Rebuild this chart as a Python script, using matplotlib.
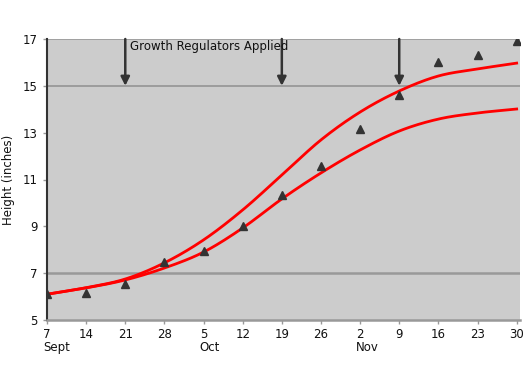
import matplotlib.pyplot as plt
import numpy as np

# days since Sept 7
days = [0, 7, 14, 21, 28, 35, 42, 49, 56, 63, 70, 77, 84]
tick_labels = ['7', '14', '21', '28', '5', '12', '19', '26', '2', '9', '16', '23', '30']
months = [(0, 'Sept'), (28, 'Oct'), (56, 'Nov')]

measured = [6.1, 6.15, 6.55, 7.48, 7.95, 9.02, 10.34, 11.58, 13.16, 14.61, 16.02, 16.32, 16.9]
upper = [6.1, 6.38, 6.75, 7.44, 8.42, 9.7, 11.19, 12.69, 13.88, 14.78, 15.42, 15.72, 15.97]
lower = [6.1, 6.37, 6.71, 7.22, 7.9, 8.93, 10.17, 11.28, 12.26, 13.07, 13.58, 13.84, 14.01]

applied = [14, 42, 63]


def smooth(x, y, n=300):
    # cubic hermite interpolation for a smooth curve
    x = np.asarray(x, float)
    y = np.asarray(y, float)
    xs = np.linspace(x[0], x[-1], n)
    m = np.gradient(y, x)
    ys = np.empty_like(xs)
    for i, xv in enumerate(xs):
        k = min(np.searchsorted(x, xv, side='right') - 1, len(x) - 2)
        h = x[k + 1] - x[k]
        t = (xv - x[k]) / h
        h00 = 2 * t**3 - 3 * t**2 + 1
        h10 = t**3 - 2 * t**2 + t
        h01 = -2 * t**3 + 3 * t**2
        h11 = t**3 - t**2
        ys[i] = h00 * y[k] + h10 * h * m[k] + h01 * y[k + 1] + h11 * h * m[k + 1]
    return xs, ys


fig = plt.figure(figsize=(5.25, 3.66), dpi=100)
ax = fig.add_axes([47 / 525, 1 - 320 / 366, 473 / 525, 281 / 366])
ax.set_facecolor('#cccccc')

ax.set_xlim(0, 84.6)
ax.set_ylim(5, 17)

ax.axhline(7, color='#999999', lw=1.8, zorder=1)
ax.axhline(15, color='#999999', lw=1.3, zorder=1)
ax.axhline(17, color='#999999', lw=1.2, zorder=1)

for xv in applied:
    ax.annotate('', xy=(xv, 15), xytext=(xv, 17),
                arrowprops=dict(arrowstyle='-|>', color='#333333', lw=1.8,
                                mutation_scale=13, shrinkA=0, shrinkB=0),
                zorder=3)
ax.text(14.8, 16.7, 'Growth Regulators Applied', fontsize=8.5, va='center',
        ha='left', color='#111111')

xs, ys = smooth(days, upper)
ax.plot(xs, ys, color='#ff0000', lw=2, zorder=4)
xs, ys = smooth(days, lower)
ax.plot(xs, ys, color='#ff0000', lw=2, zorder=4)

ax.plot(days, measured, linestyle='none', marker='^', color='#333333',
        markersize=5.5, zorder=5)

ax.set_xticks(days)
ax.set_xticklabels(tick_labels)
ax.set_yticks(range(5, 18, 2))
ax.tick_params(axis='both', colors='#999999', labelcolor='#111111',
               labelsize=8.5, length=3, width=1)
ax.tick_params(axis='x', pad=3)

for xv, name in months:
    ax.text(xv - 0.7, -0.073, name, transform=ax.get_xaxis_transform(),
            ha='left', va='top', fontsize=8.5, color='#111111')

for side in ['top', 'right']:
    ax.spines[side].set_visible(False)
ax.spines['left'].set_color('#333333')
ax.spines['left'].set_linewidth(1.5)
ax.spines['bottom'].set_color('#999999')
ax.spines['bottom'].set_linewidth(1.8)

ax.set_ylabel('Height (inches)', fontsize=8.5, color='#111111', labelpad=6)

plt.savefig('out.png', dpi=100)
